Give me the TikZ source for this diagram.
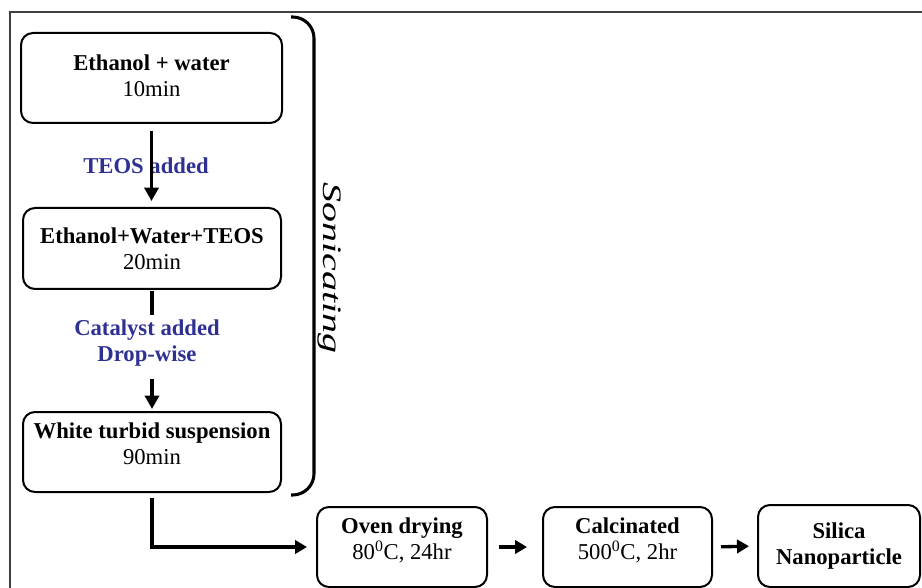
\documentclass[tikz,border=0pt]{standalone}
\usepackage{fontspec}
\usepackage{graphicx}
\setmainfont{Liberation Serif}
\usetikzlibrary{arrows.meta}
\definecolor{lblblue}{RGB}{46,49,146}
\begin{document}
\begin{tikzpicture}[x=0.75pt,y=-0.75pt,
  box/.style={draw=black, line width=1.5pt, rounded corners=9pt, align=center, inner sep=0pt,
    font=\fontsize{17}{19.5}\selectfont},
  lbl/.style={align=center, inner sep=0pt, text=lblblue,
    font=\bfseries\fontsize{17}{19.5}\selectfont},
  arr/.style={line width=2.5pt, -{Triangle[length=10pt,width=10.5pt]}},
  plain/.style={line width=2.5pt},
  harr/.style={line width=2.5pt, -{Triangle[length=9pt,width=10pt]}},
  frame/.style={draw=black!75, line width=1.3pt},
  bracket/.style={line width=2.3pt, rounded corners=16pt}
]
\useasboundingbox (0,0) rectangle (922,588);
\begin{scope}
  \clip (0,0) rectangle (922,588);
  \draw[frame] (10,12) rectangle (940,610);
\end{scope}

% left column boxes
\node[box, minimum width=195.75pt, minimum height=67.5pt, text depth=3.75pt] (b1) at (151.5,78)
  {\textbf{Ethanol + water}\\10min};
\node[box, minimum width=193.5pt, minimum height=60.75pt] (b2) at (152,248.5)
  {\textbf{Ethanol+Water+TEOS}\\20min};
\node[box, minimum width=193.5pt, minimum height=60pt, text depth=12.75pt] (b3) at (152,452)
  {\textbf{White turbid suspension}\\90min};

% bottom row boxes
\node[box, minimum width=127.5pt, minimum height=60pt, text depth=12pt] (oven) at (402,547)
  {\textbf{Oven drying}\\80\textsuperscript{0}C, 24hr};
\node[box, minimum width=126.75pt, minimum height=60pt, text depth=12pt] (calc) at (627.5,547)
  {\textbf{Calcinated}\\500\textsuperscript{0}C, 2hr};
\node[box, minimum width=121.5pt, minimum height=61.5pt] (sil) at (839,546)
  {\textbf{Silica}\\\textbf{Nanoparticle}};

% labels
\node[lbl] (teos) at (146,166) {TEOS added};
\node[lbl] (cat) at (147,343) {Catalyst added\\Drop-wise};

% connectors
\draw[arr, shorten <=5.25pt, shorten >=4.5pt] (b1.south) -- (b1.south |- b2.north);
\draw[plain, shorten <=0.5pt, shorten >=3.5pt] (b2.south) -- (b2.south |- cat.north);
\draw[arr, shorten <=9.5pt, shorten >=1.5pt] (b2.south |- cat.south) -- (b3.north);
\draw[harr, shorten <=3.75pt, shorten >=6.75pt] (b3.south) |- (oven.west);
\draw[harr, shorten <=8.25pt, shorten >=11.25pt] (oven.east) -- (calc.west);
\draw[harr, shorten <=6pt, shorten >=6pt] (calc.east) -- (sil.west);

% sonicating bracket
\draw[bracket] (291,17) -- (314,17) -- (314,495) -- (291,495);
\node[rotate=-90, inner sep=0pt, font=\itshape\fontsize{20}{24}\selectfont] (son) at (329,268)
  {\scalebox{1.5}[1]{Sonicating}};
\end{tikzpicture}
\end{document}
